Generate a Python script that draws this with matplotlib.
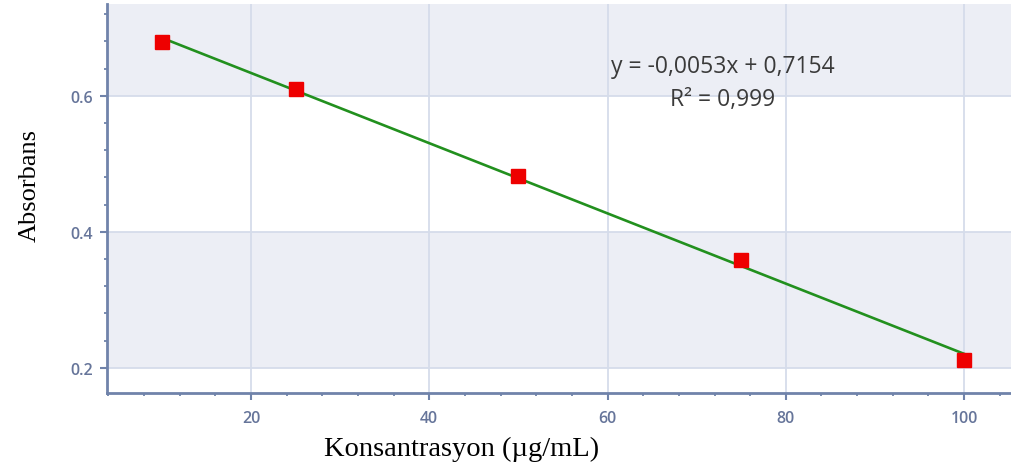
import numpy as np
import matplotlib.pyplot as plt
from matplotlib.ticker import MultipleLocator

# calibration data
konsantrasyon = [10, 25, 50, 75, 100]
absorbans = [0.679, 0.610, 0.482, 0.359, 0.212]

x_ticks = [20, 40, 60, 80, 100]
y_ticks = [0.2, 0.4, 0.6]

equation_text = "y = -0,0053x + 0,7154"
r2_text = "R² = 0,999"

AXIS_COLOR = "#7083aa"
TICK_TEXT = "#66759a"
GRID_COLOR = "#d5dcea"
BAND_COLOR = "#eceef5"

W, H = 1012, 464
XLIM = (3.85, 105.6)
YLIM = (0.163, 0.735)

fig = plt.figure(figsize=(W / 100, H / 100), dpi=100, facecolor="white")
ax = fig.add_axes([107 / W, 1 - 394 / H, 1 - 107 / W + 0.002, (394 - 5) / H])
ax.patch.set_facecolor("white")

# alternating background bands (0.2-0.4 and above 0.6)
ax.fill_between(XLIM, 0.2, 0.4, color=BAND_COLOR, lw=0, zorder=0)
ax.fill_between(XLIM, 0.6, YLIM[1], color=BAND_COLOR, lw=0, zorder=0)

ax.set_xlim(*XLIM)
ax.set_ylim(*YLIM)

ax.set_xticks(x_ticks)
ax.set_yticks(y_ticks)
ax.xaxis.set_minor_locator(MultipleLocator(4))
ax.yaxis.set_minor_locator(MultipleLocator(0.04))
ax.grid(True, which="major", color=GRID_COLOR, lw=1.3)
ax.set_axisbelow(True)

for side in ["top", "right"]:
    ax.spines[side].set_visible(False)
for side in ["left", "bottom"]:
    ax.spines[side].set_color(AXIS_COLOR)
    ax.spines[side].set_linewidth(2)

ax.tick_params(which="major", direction="out", length=5, width=1.5, color=AXIS_COLOR,
               labelcolor=TICK_TEXT, labelsize=11.5)
ax.tick_params(which="minor", direction="out", length=2.5, width=1.3, color=AXIS_COLOR)
ax.tick_params(axis="x", pad=7)
ax.tick_params(axis="y", pad=5)
for lbl in ax.get_xticklabels() + ax.get_yticklabels():
    lbl.set_fontfamily("Open Sans")
    lbl.set_fontweight("semibold")

# linear trend line through the points
k, b = np.polyfit(konsantrasyon, absorbans, 1)
xs = np.array([konsantrasyon[0], konsantrasyon[-1]])
ax.plot(xs, k * xs + b, color="#22901e", lw=1.9, zorder=3)
ax.plot(konsantrasyon, absorbans, "s", color="#ee0000", markersize=10.5, zorder=4)

fig.text(723 / W, 1 - 67 / H, equation_text, ha="center", va="center",
         fontsize=16.5, color="#3a3a3a", family="Open Sans")
fig.text(723 / W, 1 - 100 / H, r2_text, ha="center", va="center",
         fontsize=16.5, color="#3a3a3a", family="Open Sans")

fig.text(30 / W, 1 - 185 / H, "Absorbans", rotation=90, ha="center", va="center",
         fontsize=19, family="Liberation Serif", color="black")
fig.text(462 / W, 2 / H, "Konsantrasyon (µg/mL)", ha="center", va="bottom",
         fontsize=20.5, family="Liberation Serif", color="black")

fig.savefig("out.png", dpi=100, facecolor="white")
